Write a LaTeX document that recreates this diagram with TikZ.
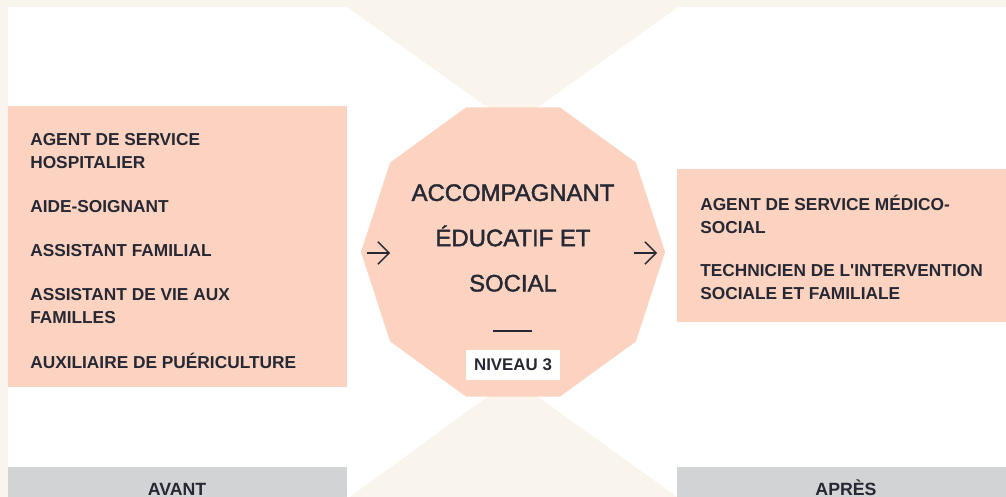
\documentclass[tikz,border=0pt]{standalone}
\usepackage{fontspec}
\setmainfont{Liberation Sans}
\newfontfamily\titrefont{Liberation Sans}[FakeBold=1.6]
\usetikzlibrary{arrows.meta}
\definecolor{creme}{HTML}{F9F4EC}
\definecolor{peche}{HTML}{FCD2C1}
\definecolor{gris}{HTML}{D1D3D4}
\definecolor{encre}{HTML}{262833}

\begin{document}
\begin{tikzpicture}[x=0.025cm,y=-0.025cm,
		metier/.style={anchor=west,align=left,inner sep=0pt,text=encre,
			font=\bfseries\fontsize{12.3}{16.3}\selectfont},
		etape/.style={anchor=base,inner sep=0pt,text=encre,font=\bfseries\fontsize{12.6}{14}\selectfont},
		fleche/.style={draw=encre,line width=1pt,-{Straight Barb[length=8pt,width=16pt]}}]
		\fill[creme] (0,0) rectangle (1006,497);
		\fill[white] (8,7) rectangle (1006,497);
		\fill[creme] (347,7) -- (678,7) -- (531,112) -- (494,112) -- cycle;
		\fill[creme] (350,497) -- (677,497) -- (531,392) -- (494,392) -- cycle;
		\fill[peche,shift={(513,252)}] (0:152) \foreach \a in {36,72,...,324} {-- (\a:152)} -- cycle;

		\begin{scope}
			\fill[peche] (8,106) rectangle (347,387);
			\fill[peche] (677,169) rectangle (1006,322);
			\fill[gris] (8,467) rectangle (347,497);
			\fill[gris] (677,467) rectangle (1006,497);

			\node[metier] (a1) at (30,151) {AGENT DE SERVICE\\HOSPITALIER};
			\node[metier] (a2) at (30,207) {AIDE-SOIGNANT};
			\node[metier] (a3) at (30,251) {ASSISTANT FAMILIAL};
			\node[metier] (a4) at (30,306) {ASSISTANT DE VIE AUX\\FAMILLES};
			\node[metier] (a5) at (30,361) {AUXILIAIRE DE PUÉRICULTURE};

			\node[metier] (p1) at (700,214.5) {AGENT DE SERVICE MÉDICO-\\SOCIAL};
			\node[metier] (p2) at (700,282.5) {TECHNICIEN DE L\textquotesingle INTERVENTION\\SOCIALE ET FAMILIALE};

			\node[align=center,inner sep=0pt,text=encre,font=\titrefont\fontsize{17}{32.2}\selectfont]
				(aes) at (513,238) {ACCOMPAGNANT\\ÉDUCATIF ET\\SOCIAL};
			\draw[encre,line width=1.3pt] (493,331) -- (532,331);
			\node[fill=white,text=encre,minimum width=2.33cm,minimum height=0.75cm,inner sep=0pt,
				font=\bfseries\fontsize{12}{14}\selectfont] (niv) at (513,365) {NIVEAU 3};

			\node[etape] (avant) at (177,495) {AVANT};
			\node[etape] (apres) at (846,495) {APRÈS};

			\coordinate (g1) at (367,253);
			\coordinate (g2) at (390,253);
			\coordinate (d1) at (634,253);
			\coordinate (d2) at (657,253);
			\draw[fleche] (g1) -- (g2);
			\draw[fleche] (d1) -- (d2);
		\end{scope}
	\end{tikzpicture}
\end{document}
